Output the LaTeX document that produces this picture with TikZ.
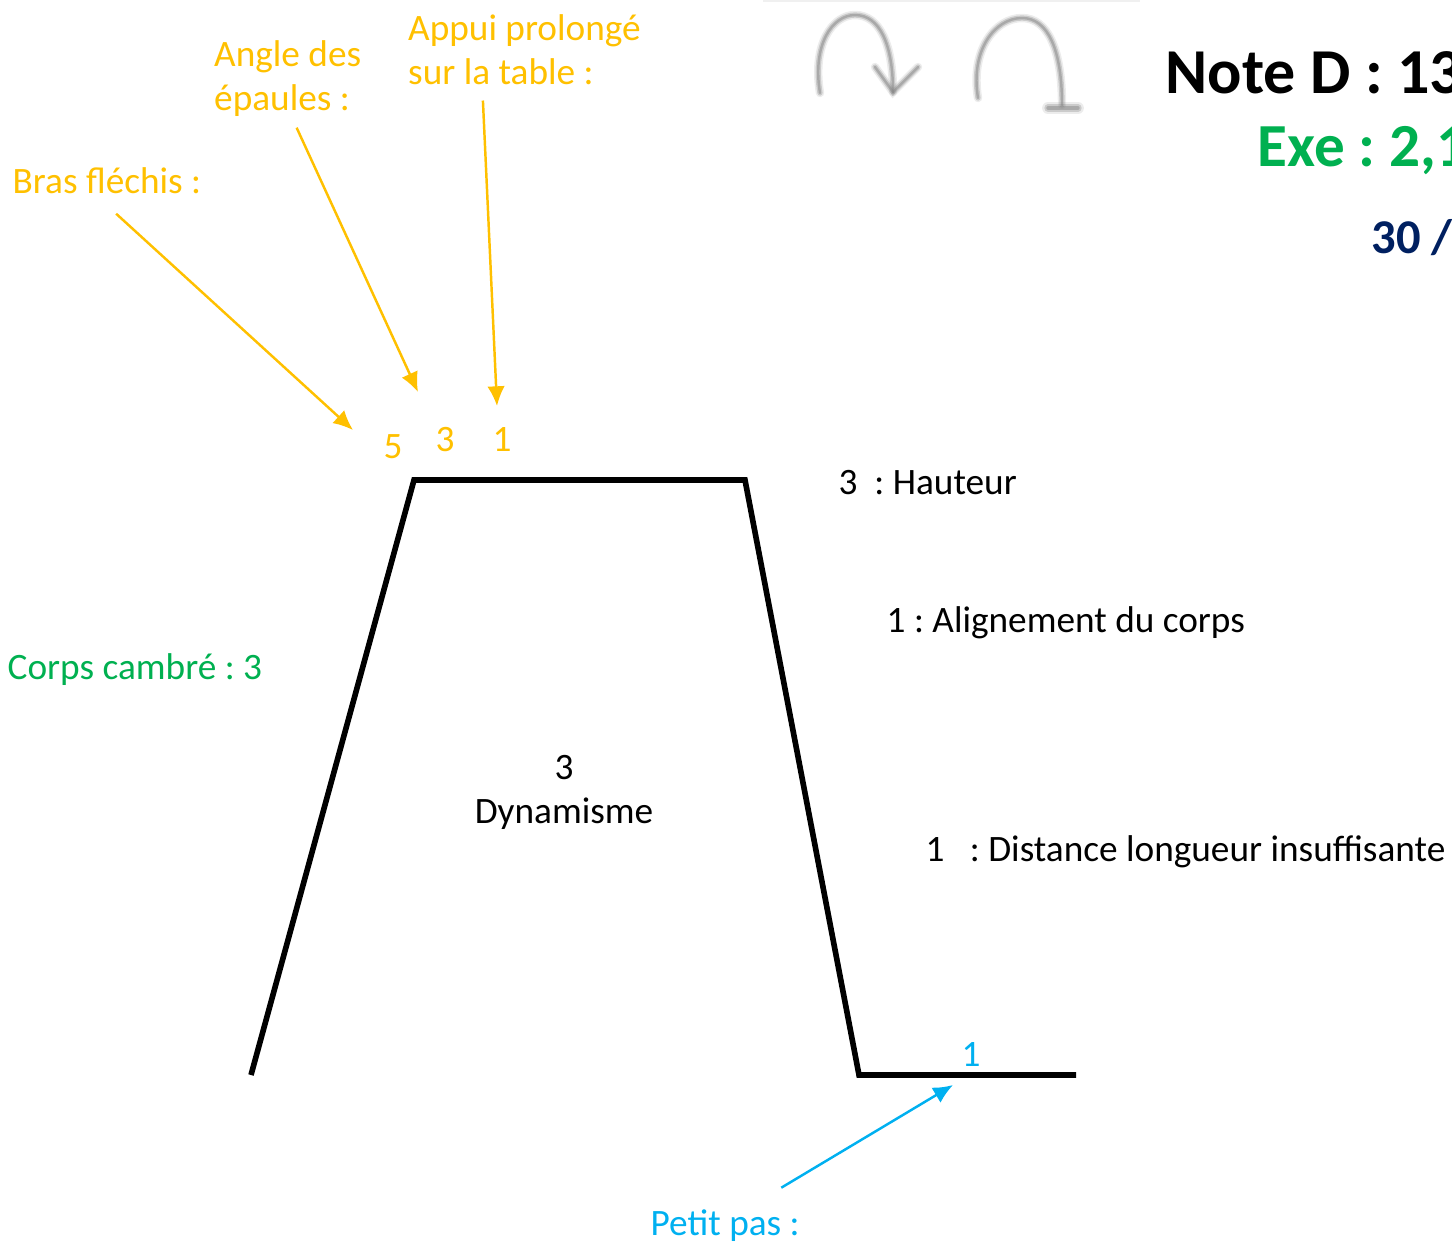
\documentclass[tikz,border=0pt]{standalone}
\usepackage{fontspec}
\setmainfont{Carlito}
\usepackage{tikz}
\usetikzlibrary{arrows.meta}
\definecolor{coljaune}{HTML}{FFC000}
\definecolor{colvert}{HTML}{00B050}
\definecolor{colbleu}{HTML}{00B0F0}
\definecolor{colnavy}{HTML}{002060}
\frenchspacing
\tikzset{
>={Latex[length=5.6pt,width=5pt]},
txt/.style={anchor=base west, inner sep=0pt, font=\fontsize{10.6}{12.5}\selectfont},
mid/.style={txt, anchor=base},
multi/.style={inner sep=1pt, align=left, font=\fontsize{10.6}{12.5}\selectfont, text=coljaune, anchor=north west},
fleche/.style={->, line width=.7pt},
piste/.style={line width=1.6pt, line join=miter},
icone/.style={gray, line cap=round},
}
\begin{document}
\begin{tikzpicture}[x=0.01cm, y=-0.01cm]
\useasboundingbox (0,0) rectangle (1452,1242);
\fill[black!6] (763,0) rectangle (1140,2);

% coordinates of the vault
\coordinate (pieda) at (251,1075);
\coordinate (mainsa) at (414,480);
\coordinate (mainsb) at (745,480);
\coordinate (piedb) at (859,1075);
\coordinate (piedc) at (1076,1075);
\draw[piste] (pieda) -- (mainsa) -- (mainsb) -- (piedb) -- (piedc);

% yellow labels
\node[multi] (appui) at (404,10) {Appui prolongé\\sur la table :};
\node[multi] (angle) at (210,36) {Angle des\\épaules :};
\node[txt, text=coljaune] (bras) at (12,193) {Bras fl\kern0pt échis :};
\node[mid, text=coljaune] (cinq) at (393,458) {5};
\node[mid, text=coljaune] (trois) at (445,451) {3};
\node[mid, text=coljaune] (un) at (502,451) {1};

% other labels
\node[txt, text=colvert] (corps) at (7,679) {Corps cambré : 3};
\node[mid] (dyna) at (564,779) {3};
\node[mid] (dynb) at (564,823) {Dynamisme};
\node[txt] (haut) at (838,494) {3\ \ : Hauteur};
\node[txt] (align) at (886,632) {1 : Alignement du corps};
\node[txt] (dist) at (925,861) {1\ \ \ : Distance longueur insuffisante};
\node[mid, text=colbleu] (unb) at (971,1066) {1};
\node[txt, text=colbleu] (petit) at (650,1235) {Petit pas :};

% notes, cut by the page
\node[txt, font=\fontsize{18.2}{20}\bfseries] (noted) at (1165,93) {Note D : 13};
\node[txt, font=\fontsize{17.4}{20}\bfseries, text=colvert] (exe) at (1257,166) {Exe\ : 2,1};
\node[txt, font=\fontsize{13.8}{16}\bfseries, text=colnavy] (score) at (1371,253) {30 /};

% arrow ends
\coordinate (tipbras) at (353,430);
\coordinate (tipangle) at (418,392);
\coordinate (tipappui) at (497,406);
\coordinate (tippetit) at (953,1085);

% edges
\draw[fleche, coljaune, shorten <=2pt] (bras.south) ++(4,15) -- (tipbras); % bras to 5
\draw[fleche, coljaune, shorten <=2pt] (angle.south) ++(6,1) -- (tipangle); % angle to 3
\draw[fleche, coljaune, shorten <=3.4pt] (appui.223) -- (tipappui); % appui to 1
\draw[fleche, colbleu, shorten <=6pt] (petit.north) ++(38,-10) -- (tippetit); % petit to 1

% icons
\foreach \w/\o in {2.4/.15, 1.5/.3, .7/.45} {
\draw[icone, line width=\w pt, opacity=\o] (820,93) .. controls (812,45) and (832,15) .. (855,15) .. controls (880,15) and (893,45) .. (893,92);
\draw[icone, line width=\w pt, opacity=\o] (875,67) -- (893,92) -- (918,67);
\draw[icone, line width=\w pt, opacity=\o] (978,98) .. controls (970,50) and (995,18) .. (1022,18) .. controls (1048,18) and (1062,50) .. (1062,105);
\draw[icone, line width=1.4*\w pt, opacity=\o] (1048,108) -- (1078,108);
}
\end{tikzpicture}
\end{document}
